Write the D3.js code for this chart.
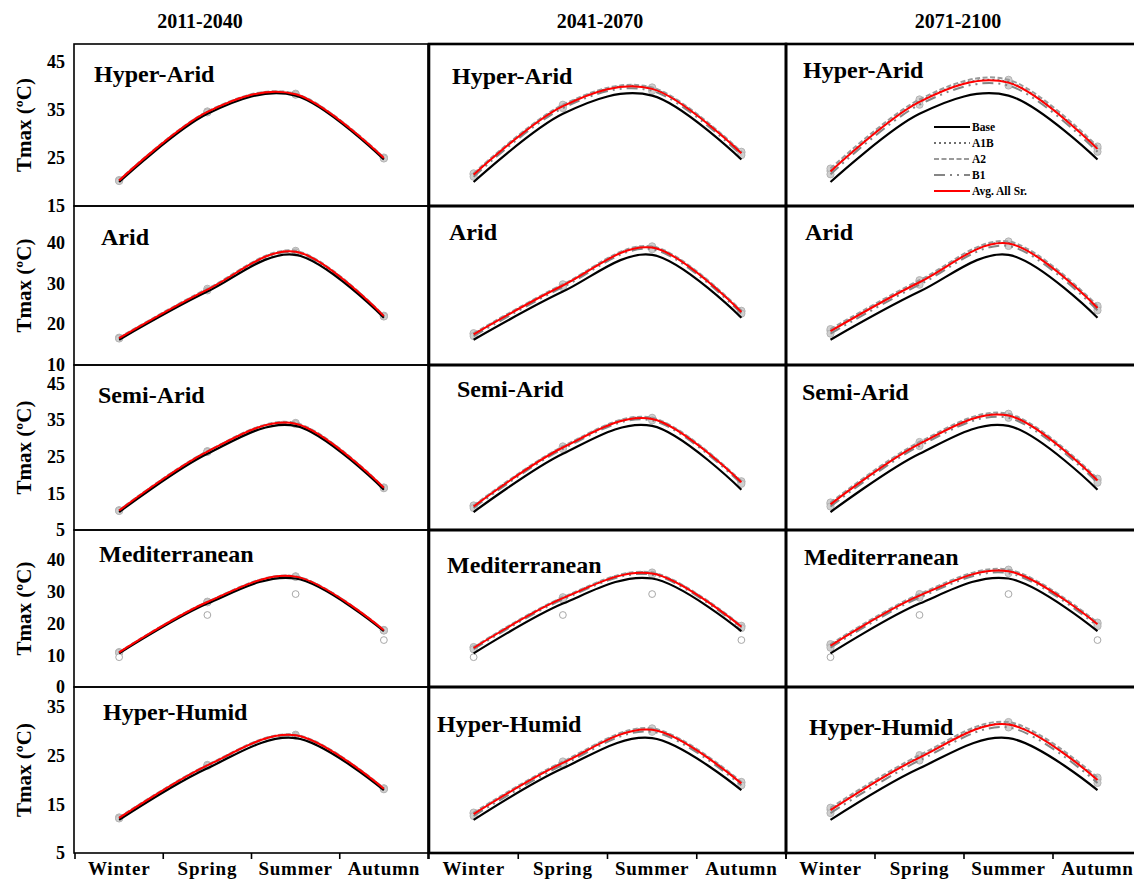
<!DOCTYPE html>
<html>
<head>
<meta charset="utf-8">
<script src="https://cdn.jsdelivr.net/npm/d3@7"></script>
<style>
  body { margin: 0; background: #fff; }
  svg { display: block; font-family: "Liberation Serif", "Times New Roman", serif; font-weight: bold; }
</style>
</head>
<body>
<svg id="chart" width="1134" height="879"></svg>
<script>
// ---- data ----------------------------------------------------------------
const seasons = ["Winter", "Spring", "Summer", "Autumn"];
const periods = ["2011-2040", "2041-2070", "2071-2100"];
const regions = ["Hyper-Arid", "Arid", "Semi-Arid", "Mediterranean", "Hyper-Humid"];
const yTickValues = [[15, 25, 35, 45], [10, 20, 30, 40], [5, 15, 25, 35, 45], [0, 10, 20, 30, 40], [5, 15, 25, 35]];

// Baseline Tmax (°C) per region, Winter..Autumn
const baseTmax = [
  [20.0, 34.2, 38.0, 24.7],
  [16.2, 28.0, 37.0, 21.6],
  [9.9, 25.8, 33.4, 16.0],
  [10.6, 26.3, 34.2, 17.6],
  [11.8, 22.4, 28.6, 17.9]
];

// 2011-2040
const a1b2011 = [
  [20.3, 34.6, 38.3, 25.0],
  [16.6, 28.5, 37.8, 22.0],
  [10.3, 26.4, 34.0, 16.5],
  [10.9, 26.8, 34.8, 17.9],
  [12.2, 23.0, 29.2, 18.2]
];
const a22011 = [
  [20.4, 34.7, 38.4, 25.1],
  [16.7, 28.7, 38.0, 22.1],
  [10.4, 26.5, 34.2, 16.6],
  [11.0, 26.9, 34.9, 18.0],
  [12.3, 23.1, 29.3, 18.3]
];
const b12011 = [
  [20.2, 34.5, 38.2, 24.9],
  [16.5, 28.3, 37.6, 21.9],
  [10.2, 26.3, 33.9, 16.4],
  [10.8, 26.7, 34.7, 17.8],
  [12.1, 22.9, 29.1, 18.1]
];
const avg2011 = [
  [20.3, 34.6, 38.3, 25.0],
  [16.6, 28.5, 37.8, 22.0],
  [10.3, 26.4, 34.0, 16.5],
  [10.9, 26.8, 34.8, 17.9],
  [12.2, 23.0, 29.2, 18.2]
];

// 2041-2070
const a1b2041 = [
  [21.6, 35.9, 39.5, 26.1],
  [17.6, 29.6, 38.9, 23.1],
  [11.5, 27.6, 35.4, 18.1],
  [12.4, 28.1, 35.9, 19.1],
  [13.1, 23.6, 30.4, 19.4]
];
const a22041 = [
  [21.8, 36.1, 39.7, 26.3],
  [17.8, 29.8, 39.1, 23.3],
  [11.7, 27.8, 35.6, 18.3],
  [12.6, 28.3, 36.1, 19.3],
  [13.3, 23.8, 30.6, 19.6]
];
const b12041 = [
  [21.1, 35.4, 39.0, 25.6],
  [17.1, 29.1, 38.4, 22.6],
  [11.0, 27.1, 34.9, 17.6],
  [11.9, 27.6, 35.4, 18.6],
  [12.6, 23.1, 29.9, 18.9]
];
const avg2041 = [
  [21.5, 35.8, 39.4, 26.0],
  [17.5, 29.5, 38.8, 23.0],
  [11.4, 27.5, 35.3, 18.0],
  [12.3, 28.0, 35.8, 19.0],
  [13.0, 23.5, 30.3, 19.3]
];

// 2071-2100
const a1b2071 = [
  [22.3, 36.8, 40.8, 27.0],
  [18.4, 30.4, 39.9, 24.1],
  [12.1, 28.6, 36.3, 18.6],
  [13.1, 28.9, 36.6, 19.9],
  [13.9, 24.7, 31.5, 20.1]
];
const a22071 = [
  [22.8, 37.2, 41.3, 27.4],
  [18.8, 30.8, 40.3, 24.5],
  [12.5, 29.0, 36.7, 19.0],
  [13.5, 29.3, 37.0, 20.3],
  [14.3, 25.1, 31.9, 20.5]
];
const b12071 = [
  [21.6, 36.1, 40.1, 26.3],
  [17.7, 29.7, 39.2, 23.4],
  [11.4, 27.9, 35.6, 17.9],
  [12.4, 28.2, 35.9, 19.2],
  [13.2, 24.0, 30.8, 19.4]
];
const avg2071 = [
  [22.2, 36.7, 40.7, 26.9],
  [18.3, 30.3, 39.8, 24.0],
  [12.0, 28.5, 36.2, 18.5],
  [13.0, 28.8, 36.5, 19.8],
  [13.8, 24.6, 31.4, 20.0]
];

// Isolated station readings shown as open circles in the Mediterranean row
const mediterraneanStations = [9.4, 22.7, 29.3, 14.8];

const scenarioNames = ["A1B", "A2", "B1"];
const scenarioByPeriod = [
  [a1b2011, a22011, b12011, avg2011],
  [a1b2041, a22041, b12041, avg2041],
  [a1b2071, a22071, b12071, avg2071]
];

// ---- layout --------------------------------------------------------------
const colRange = [[75, 428], [429, 786], [786, 1142]];
const rowRange = [[44, 206], [206, 365], [365, 530], [530, 687], [687, 853]];
const rowDomainTop = [48.75, 49, 50, 49.5, 39.1];
const titleCenters = [200, 600, 958];
const labelOffsets = [
  [[19, 38], [23, 40], [17, 34]],
  [[26, 39], [20, 34], [19, 34]],
  [[23, 38], [28, 32], [16, 35]],
  [[24, 32], [18, 43], [18, 35]],
  [[28, 33], [8, 45], [23, 48]]
];

const seriesStyle = {
  A1B: { stroke: "#6e6e6e", width: 2, dash: "2,3" },
  A2: { stroke: "#9a9a9a", width: 2, dash: "5,2.5" },
  B1: { stroke: "#858585", width: 2, dash: "11,5,2,5,2,5" },
  Base: { stroke: "#000", width: 2.2, dash: null },
  Avg: { stroke: "#ff0000", width: 2, dash: null }
};

const svg = d3.select("#chart");

// Column titles
svg.selectAll("text.period")
  .data(periods)
  .join("text")
  .attr("class", "period")
  .attr("x", (d, i) => titleCenters[i])
  .attr("y", 28)
  .attr("text-anchor", "middle")
  .attr("font-size", 20)
  .text(d => d);

regions.forEach((region, r) => {
  const [top, bottom] = rowRange[r];
  const y = d3.scaleLinear()
    .domain([yTickValues[r][0], rowDomainTop[r]])
    .range([bottom, top]);

  // y tick labels (left column only)
  const yAxis = d3.axisLeft(y)
    .tickValues(yTickValues[r])
    .tickSize(0)
    .tickPadding(0);
  const ya = svg.append("g")
    .attr("transform", "translate(65,0)")
    .call(yAxis);
  ya.select(".domain").remove();
  ya.selectAll("text")
    .attr("font-family", "Liberation Serif, serif")
    .attr("font-weight", "bold")
    .attr("font-size", 18)
    .attr("fill", "#000");

  // y title
  svg.append("text")
    .attr("transform", `translate(31,${(top + bottom) / 2}) rotate(-90)`)
    .attr("text-anchor", "middle")
    .attr("font-size", 21)
    .text("Tmax (ºC)");

  periods.forEach((period, c) => {
    const x = d3.scaleBand().domain(seasons).range(colRange[c]);
    const cx = s => x(s) + x.bandwidth() / 2;
    const g = svg.append("g");

    // panel frame
    g.append("rect")
      .attr("x", colRange[c][0] - (c === 0 ? 1 : 0))
      .attr("y", top)
      .attr("width", colRange[c][1] - colRange[c][0] + (c === 0 ? 1 : 0))
      .attr("height", bottom - top)
      .attr("fill", "none")
      .attr("stroke", "#000")
      .attr("stroke-width", c === 0 ? 1.6 : 2.6);

    const [a1b, a2, b1, avg] = scenarioByPeriod[c];
    const scen = { A1B: a1b[r], A2: a2[r], B1: b1[r] };

    // scenario markers
    scenarioNames.forEach(name => {
      g.selectAll(null)
        .data(scen[name])
        .join("circle")
        .attr("cx", (d, i) => cx(seasons[i]))
        .attr("cy", d => y(d))
        .attr("r", 3.6)
        .attr("fill", "#cfcfcf")
        .attr("stroke", "#b4b4b4")
        .attr("stroke-width", 1);
    });

    if (r === 3) {
      g.selectAll(null)
        .data(mediterraneanStations)
        .join("circle")
        .attr("cx", (d, i) => cx(seasons[i]))
        .attr("cy", d => y(d))
        .attr("r", 3.4)
        .attr("fill", "#fff")
        .attr("stroke", "#a8a8a8")
        .attr("stroke-width", 1);
    }

    const line = d3.line()
      .x((d, i) => cx(seasons[i]))
      .y(d => y(d))
      .curve(d3.curveCardinal.tension(0));

    const drawSeries = (vals, st) => {
      g.append("path")
        .attr("d", line(vals))
        .attr("fill", "none")
        .attr("stroke", st.stroke)
        .attr("stroke-width", st.width)
        .attr("stroke-dasharray", st.dash);
    };
    drawSeries(scen.A1B, seriesStyle.A1B);
    drawSeries(scen.A2, seriesStyle.A2);
    drawSeries(scen.B1, seriesStyle.B1);
    drawSeries(baseTmax[r], seriesStyle.Base);
    drawSeries(avg[r], seriesStyle.Avg);

    // region label
    g.append("text")
      .attr("x", colRange[c][0] + labelOffsets[r][c][0])
      .attr("y", top + labelOffsets[r][c][1])
      .attr("font-size", 24)
      .text(region);

    // bottom axis under last row
    if (r === regions.length - 1) {
      const xa = svg.append("g")
        .attr("transform", `translate(0,${bottom})`)
        .call(d3.axisBottom(x).tickSize(0).tickPadding(0));
      xa.select(".domain").remove();
      xa.selectAll("text").remove();
      const edges = seasons.map(s => x(s)).concat([colRange[c][1]]);
      xa.selectAll("line.tick-edge")
        .data(edges)
        .join("line")
        .attr("class", "tick-edge")
        .attr("x1", d => d).attr("x2", d => d)
        .attr("y1", 0).attr("y2", 6)
        .attr("stroke", "#000")
        .attr("stroke-width", 1.6);
      xa.selectAll("text.season")
        .data(seasons)
        .join("text")
        .attr("class", "season")
        .attr("x", d => cx(d))
        .attr("y", 22)
        .attr("text-anchor", "middle")
        .attr("font-family", "Liberation Serif, serif")
        .attr("font-weight", "bold")
        .attr("font-size", 19)
        .attr("letter-spacing", 0.8)
        .attr("fill", "#000")
        .text(d => d);
    }
  });
});

// Legend inside the 2071-2100 Hyper-Arid panel
const legendItems = [
  { label: "Base", style: seriesStyle.Base },
  { label: "A1B", style: seriesStyle.A1B },
  { label: "A2", style: seriesStyle.A2 },
  { label: "B1", style: seriesStyle.B1 },
  { label: "Avg. All Sr.", style: seriesStyle.Avg }
];
const legend = svg.append("g").attr("transform", "translate(934,127)");
legend.selectAll("g")
  .data(legendItems)
  .join("g")
  .attr("transform", (d, i) => `translate(0,${i * 16})`)
  .each(function (d) {
    const item = d3.select(this);
    item.append("line")
      .attr("x1", 0).attr("x2", 36)
      .attr("stroke", d.style.stroke)
      .attr("stroke-width", d.style.width)
      .attr("stroke-dasharray", d.style.dash);
    item.append("text")
      .attr("x", 38)
      .attr("dy", "0.35em")
      .attr("font-size", 11.5)
      .text(d.label);
  });
</script>
</body>
</html>
